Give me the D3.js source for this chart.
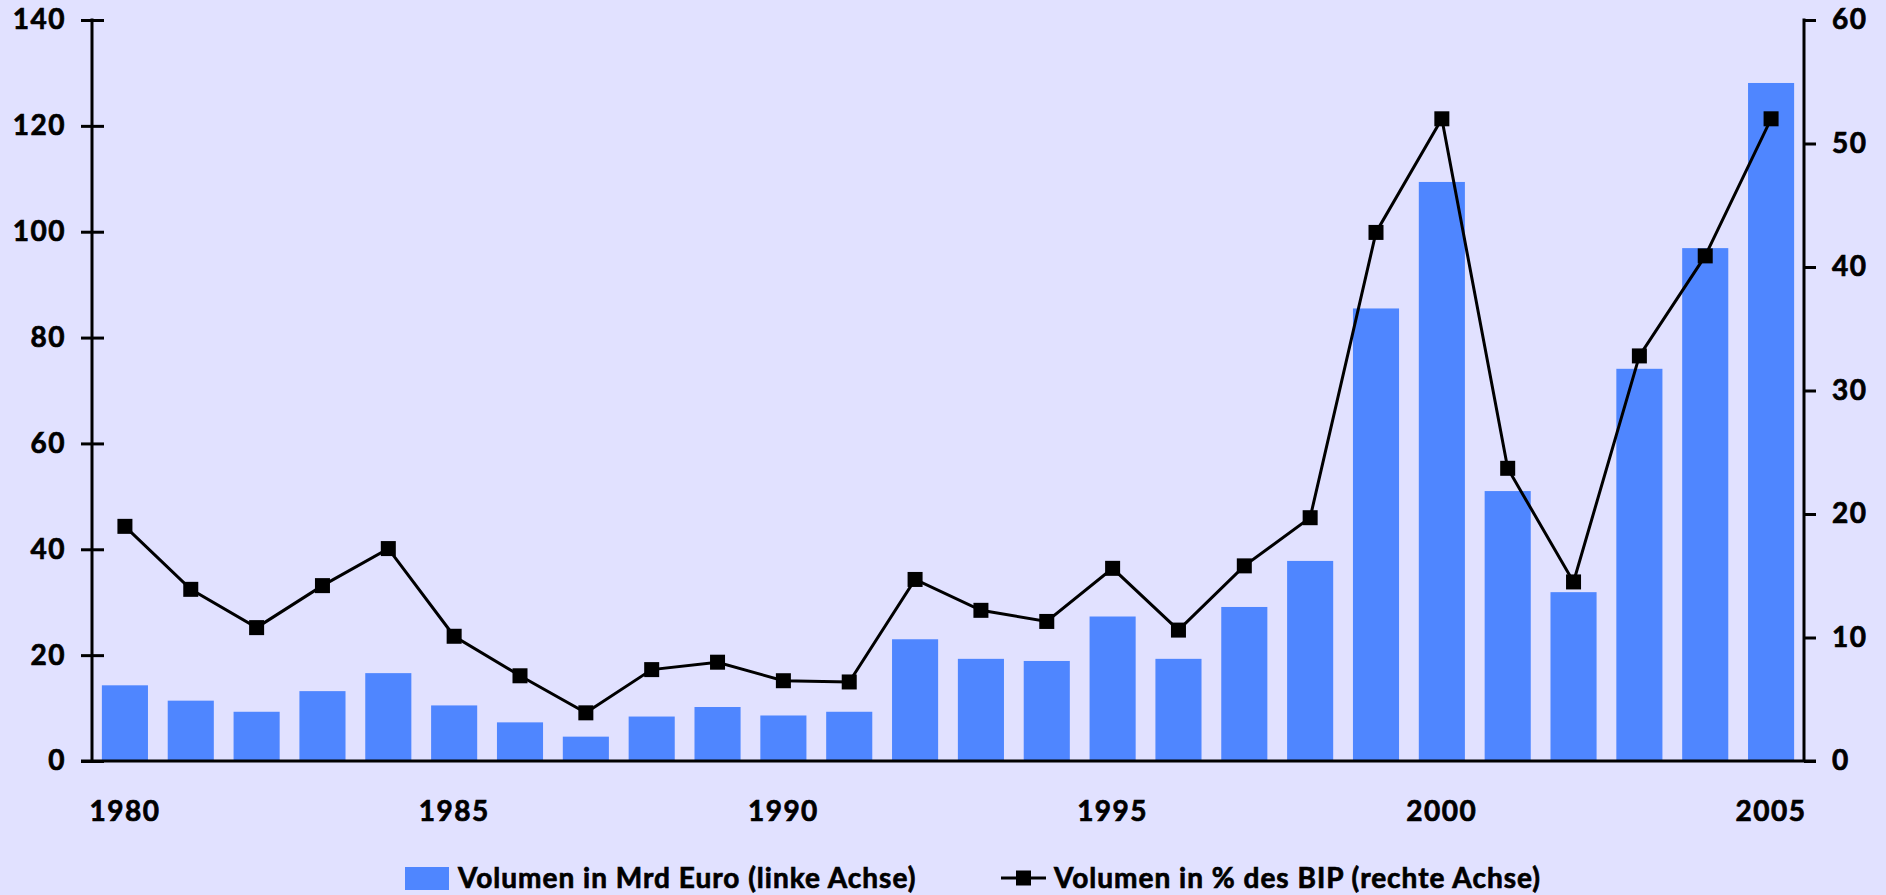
<!DOCTYPE html>
<html>
<head>
<meta charset="utf-8">
<script src="https://cdn.jsdelivr.net/npm/d3@7"></script>
<style>
    html, body { margin: 0; padding: 0; background: #e1e1ff; }
    svg { display: block; }
    text { font-family: Lato, "DejaVu Sans", sans-serif; font-weight: 700; fill: #000; stroke: #000; stroke-width: 0.7px; }
</style>
</head>
<body>
<svg id="chart" width="1886" height="895"></svg>
<script>
// Data
const years = d3.range(1980, 2006);
const volumenMrd = [14.3, 11.4, 9.3, 13.2, 16.6, 10.5, 7.3, 4.6, 8.4, 10.2, 8.6, 9.3, 23.0,
    19.3, 18.9, 27.3, 19.3, 29.1, 37.8, 85.5, 109.4, 51.0, 31.9, 74.1, 96.9, 128.1];
const volumenBip = [19.0, 13.9, 10.8, 14.2, 17.2, 10.1, 6.9, 3.9, 7.4, 8.0, 6.5, 6.4, 14.7,
    12.2, 11.3, 15.6, 10.6, 15.8, 19.7, 42.8, 52.0, 23.7, 14.5, 32.8, 40.9, 52.0];
const leftTicks = [0, 20, 40, 60, 80, 100, 120, 140];
const rightTicks = [0, 10, 20, 30, 40, 50, 60];
const yearLabels = [1980, 1985, 1990, 1995, 2000, 2005];
const legendLabels = ["Volumen in Mrd Euro (linke Achse)", "Volumen in % des BIP (rechte Achse)"];

const barColor = "#4f86ff";
const svg = d3.select("#chart");

// plot area
const plotL = 92, plotR = 1804, plotT = 20, plotB = 761;

const x = d3.scaleBand()
    .domain(years)
    .range([plotL, plotR])
    .paddingInner(0.3)
    .paddingOuter(0.15);

const yL = d3.scaleLinear().domain([0, 140]).range([plotB, plotT]);
const yR = d3.scaleLinear().domain([0, 60]).range([plotB, plotT]);

// bars
svg.append("g")
    .selectAll("rect")
    .data(years)
    .join("rect")
    .attr("x", d => x(d))
    .attr("width", x.bandwidth())
    .attr("y", (d, i) => yL(volumenMrd[i]))
    .attr("height", (d, i) => plotB - yL(volumenMrd[i]))
    .attr("fill", barColor);

// left axis
const gL = svg.append("g")
    .attr("transform", `translate(${plotL},0)`)
    .call(d3.axisLeft(yL).tickValues(leftTicks).tickSize(11).tickSizeOuter(0).tickPadding(15));
gL.select(".domain").remove();
gL.selectAll(".tick line").attr("x2", -11).attr("x1", 12).attr("stroke-width", 3);
gL.selectAll(".tick text").style("font-size", "28px").style("letter-spacing", "1.5px");
gL.append("line")
    .attr("y1", plotT - 1.5).attr("y2", plotB)
    .attr("stroke", "#000").attr("stroke-width", 3);

// right axis
const gR = svg.append("g")
    .attr("transform", `translate(${plotR},0)`)
    .call(d3.axisRight(yR).tickValues(rightTicks).tickSize(12).tickSizeOuter(0).tickPadding(16));
gR.select(".domain").remove();
gR.selectAll(".tick line").attr("stroke-width", 3);
gR.selectAll(".tick text").style("font-size", "28px").style("letter-spacing", "1.5px");
gR.append("line")
    .attr("y1", plotT - 1.5).attr("y2", plotB)
    .attr("stroke", "#000").attr("stroke-width", 3);

// x axis
const gX = svg.append("g")
    .attr("transform", `translate(0,${plotB})`)
    .call(d3.axisBottom(x).tickValues(yearLabels).tickSize(0).tickPadding(40));
gX.select(".domain").remove();
gX.selectAll(".tick text").style("font-size", "28px").style("letter-spacing", "1.5px");
gX.append("line")
    .attr("x1", plotL - 11).attr("x2", plotR + 12)
    .attr("stroke", "#000").attr("stroke-width", 3);

// line + markers
const line = d3.line()
    .x((d, i) => x(years[i]) + x.bandwidth() / 2)
    .y(d => yR(d));

svg.append("path")
    .datum(volumenBip)
    .attr("d", line)
    .attr("fill", "none")
    .attr("stroke", "#000")
    .attr("stroke-width", 3);

svg.append("g")
    .selectAll("rect")
    .data(volumenBip)
    .join("rect")
    .attr("x", (d, i) => x(years[i]) + x.bandwidth() / 2 - 7.5)
    .attr("y", d => yR(d) - 7.5)
    .attr("width", 15)
    .attr("height", 15)
    .attr("fill", "#000");

// legend
const legY = 878;
svg.append("rect")
    .attr("x", 405).attr("y", legY - 11)
    .attr("width", 44).attr("height", 23)
    .attr("fill", barColor);
svg.append("text")
    .attr("x", 458).attr("y", legY)
    .attr("dy", "0.35em")
    .style("font-size", "28px")
    .style("letter-spacing", "1px")
    .text(legendLabels[0]);

svg.append("line")
    .attr("x1", 1001).attr("x2", 1046)
    .attr("y1", legY).attr("y2", legY)
    .attr("stroke", "#000").attr("stroke-width", 3);
svg.append("rect")
    .attr("x", 1016).attr("y", legY - 7.5)
    .attr("width", 15).attr("height", 15)
    .attr("fill", "#000");
svg.append("text")
    .attr("x", 1054).attr("y", legY)
    .attr("dy", "0.35em")
    .style("font-size", "28px")
    .style("letter-spacing", "1px")
    .text(legendLabels[1]);
</script>
</body>
</html>
